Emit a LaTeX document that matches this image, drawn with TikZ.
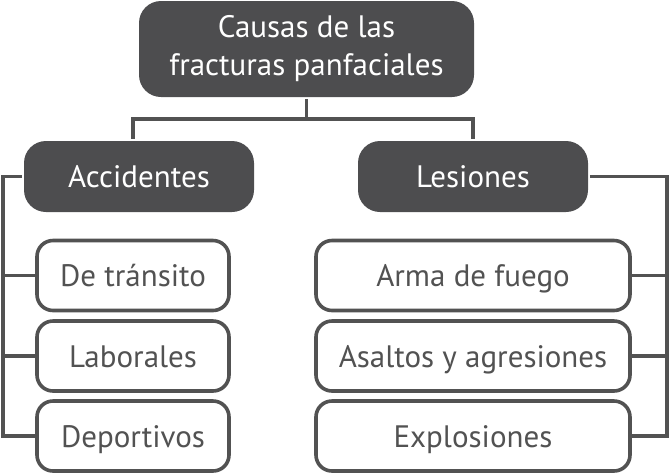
\documentclass[tikz,border=0pt]{standalone}
\usepackage{fontspec}
\setmainfont{PT Sans}
\usetikzlibrary{positioning}
\definecolor{boxgray}{HTML}{4D4D4F}
\definecolor{linegray}{HTML}{525252}

\begin{document}
\begin{tikzpicture}[x=0.5pt,y=-0.5pt,line width=1.8pt,
  font=\fontsize{15.5pt}{19pt}\selectfont,
  head/.style={fill=boxgray,text=white,align=center,inner sep=0pt,rounded corners=11pt},
  leaf/.style={draw=linegray,fill=white,text=linegray,inner sep=0pt,rounded corners=8pt,
    minimum height=35pt,text height=11pt,text depth=0pt},
  link/.style={draw=linegray,line width=1.8pt}]
\useasboundingbox (0,0) rectangle (670,473);
% ---------- cabeceras ----------
\node[head,minimum width=167.5pt,minimum height=48pt] (root) at (306.5,49) {Causas de las\\fracturas panfaciales};
\node[head,minimum width=115pt,minimum height=35.5pt,text height=11pt,text depth=0pt] (acc) at (139,176.5) {Accidentes};
\node[head,minimum width=115pt,minimum height=35.5pt,text height=11pt,text depth=0pt] (les) at (473,176.5) {Lesiones};
% ---------- hojas ----------
\node[leaf,minimum width=96pt] (tra) at (133,275.5) {De tránsito};
\node[leaf,minimum width=96pt] (lab) at (133,356) {Laborales};
\node[leaf,minimum width=96pt] (dep) at (133,436) {Deportivos};
\node[leaf,minimum width=157pt] (arm) at (473,275.5) {Arma de fuego};
\node[leaf,minimum width=157pt] (asa) at (473,356) {Asaltos y agresiones};
\node[leaf,minimum width=157pt] (exp) at (473,436) {Explosiones};
% ---------- conectores ----------
\coordinate (fork) at (306.5,119);
\coordinate (ltrunk) at (3,177);
\coordinate (rtrunk) at (667,177);
\draw[link] (root.south) -- (fork);
\draw[link] (fork) -| ([xshift=-3pt]acc.north);
\draw[link] (fork) -| (les.north);
\draw[link] (acc.west) -- (acc.west -| ltrunk) |- (dep.west);
\draw[link] (les.east) -- (les.east -| rtrunk) |- (exp.east);
\foreach \n in {tra,lab}{
  \draw[link] (\n.west) -- (\n.west -| ltrunk);
}
\foreach \n in {arm,asa}{
  \draw[link] (\n.east) -- (\n.east -| rtrunk);
}
\end{tikzpicture}
\end{document}
